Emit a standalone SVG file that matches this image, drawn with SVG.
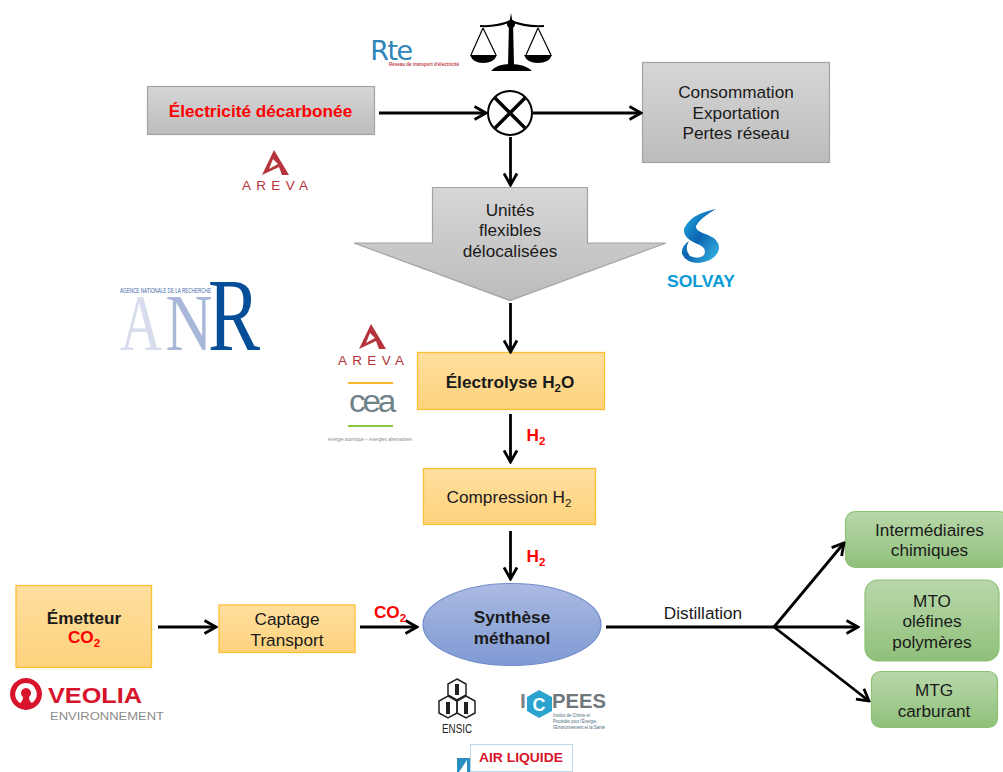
<svg xmlns="http://www.w3.org/2000/svg" width="1003" height="772" viewBox="0 0 1003 772">
<defs>
<linearGradient id="gy" x1="0" y1="0" x2="0" y2="1"><stop offset="0" stop-color="#d6d6d6"/><stop offset="1" stop-color="#bcbcbc"/></linearGradient>
<linearGradient id="or" x1="0" y1="0" x2="0" y2="1"><stop offset="0" stop-color="#ffdf9f"/><stop offset="1" stop-color="#fdd27c"/></linearGradient>
<linearGradient id="gr" x1="0" y1="0" x2="0" y2="1"><stop offset="0" stop-color="#b9d8aa"/><stop offset="1" stop-color="#8fc07a"/></linearGradient>
<linearGradient id="bl" x1="0" y1="0" x2="0" y2="1"><stop offset="0" stop-color="#abbbe2"/><stop offset="1" stop-color="#7f99d3"/></linearGradient>
<linearGradient id="so" x1="0" y1="0" x2="1" y2="1"><stop offset="0" stop-color="#25b4e8"/><stop offset=".5" stop-color="#0b63b0"/><stop offset="1" stop-color="#3cc0ea"/></linearGradient>
<marker id="a" viewBox="0 0 16 16" refX="14" refY="8" markerWidth="16" markerHeight="16" markerUnits="userSpaceOnUse" orient="auto"><path d="M2.500 1.500L14 8L2.500 14.500" fill="none" stroke="#000" stroke-width="2.800"/></marker>
</defs>
<style>
text{font-family:"Liberation Sans",Arial,sans-serif;font-size:17.200px;text-anchor:middle;fill:#1a1a1a}
.b{font-weight:700}.r{fill:#f00;font-weight:700}
.gy{fill:url(#gy);stroke:#a3a3a3;stroke-width:1.200}
.or{fill:url(#or);stroke:#fbbf34;stroke-width:1.300}
.gr{fill:url(#gr);stroke:#8cc274;stroke-width:1.200}
.c{fill:none;stroke:#000;stroke-width:2.800}
.s{font-size:11.500px}
.ar{fill:#b5333a;font-size:13.500px}
.ic{font-size:4.500px;text-anchor:start;fill:#4a6a78}
</style>
<g id="n-elec"><rect class="gy" x="147.500" y="86.500" width="227" height="48"/><text x="260.500" y="117" class="r">Électricité décarbonée</text></g>
<g id="n-conso"><rect class="gy" x="642.500" y="62.500" width="187" height="100"/><text x="736" y="98">Consommation</text><text x="736" y="119">Exportation</text><text x="736" y="139">Pertes réseau</text></g>
<g id="n-unites"><path class="gy" d="M432.500 187.500H587.500V243H666L510 300.500L354 243H432.500Z"/><text x="510" y="216">Unités</text><text x="510" y="236">flexibles</text><text x="510" y="257">délocalisées</text></g>
<g id="n-electrolyse"><rect class="or" x="417.500" y="352.500" width="187" height="57"/><text x="510" y="388" class="b">Électrolyse H<tspan dy="4" class="s">2</tspan><tspan dy="-4">O</tspan></text></g>
<g id="n-compression"><rect class="or" x="423.500" y="468.500" width="172" height="56"/><text x="509" y="503">Compression H<tspan dy="4" class="s">2</tspan></text></g>
<g id="n-emetteur"><rect class="or" x="16" y="585.500" width="135.500" height="82"/><text x="84" y="624" class="b">Émetteur</text><text x="84" y="643" class="r">CO<tspan dy="4" class="s">2</tspan></text></g>
<g id="n-captage"><rect class="or" x="219" y="605" width="136" height="47.500"/><text x="287" y="625">Captage</text><text x="287" y="646">Transport</text></g>
<g id="n-synthese"><ellipse cx="512" cy="624.500" rx="89" ry="41" fill="url(#bl)" stroke="#6f8ccb" stroke-width="1.200"/><text x="512" y="623" class="b">Synthèse</text><text x="512" y="644" class="b">méthanol</text></g>
<g id="n-inter"><rect class="gr" x="845.500" y="511.500" width="163" height="56" rx="10"/><text x="929.500" y="536">Intermédiaires</text><text x="929.500" y="556">chimiques</text></g>
<g id="n-mto"><rect class="gr" x="865" y="580" width="134" height="81" rx="13"/><text x="932" y="607">MTO</text><text x="932" y="627">oléfines</text><text x="932" y="648">polymères</text></g>
<g id="n-mtg"><rect class="gr" x="871.500" y="671.500" width="126" height="56" rx="9"/><text x="934" y="696">MTG</text><text x="934" y="717">carburant</text></g>
<g id="connectors">
<path class="c" marker-end="url(#a)" d="M379 113H486"/>
<path class="c" marker-end="url(#a)" d="M533 113H641"/>
<path class="c" marker-end="url(#a)" d="M510.500 137V185"/>
<path class="c" marker-end="url(#a)" d="M510.500 303V352"/>
<path class="c" marker-end="url(#a)" d="M510.500 414V462"/>
<path class="c" marker-end="url(#a)" d="M510.500 531V579"/>
<path class="c" marker-end="url(#a)" d="M158 627H216"/>
<path class="c" marker-end="url(#a)" d="M360 627H417"/>
<path class="c" marker-end="url(#a)" d="M606 627H858"/>
<path class="c" marker-end="url(#a)" d="M774 627L844 543"/>
<path class="c" marker-end="url(#a)" d="M774 627L869 701"/>
</g>
<g id="n-mix"><circle cx="510" cy="113" r="22" fill="#fff" stroke="#000" stroke-width="2"/><path d="M495 98L525 128M525 98L495 128" stroke="#000" stroke-width="3.400" fill="none"/></g>
<g id="labels">
<text x="536" y="441" class="r">H<tspan dy="4" class="s">2</tspan></text>
<text x="536" y="562" class="r">H<tspan dy="4" class="s">2</tspan></text>
<text x="390" y="618" class="r">CO<tspan dy="4" class="s">2</tspan></text>
<text x="703" y="619">Distillation</text>
</g>
<g id="logo-rte"><text x="391" y="60" style="font-size:27px;fill:#2e86b8;letter-spacing:-1.500px;font-family:'DejaVu Sans',sans-serif">Rte</text><text x="424" y="66" style="font-size:4.500px;fill:#c0404a;font-weight:700" textLength="70" lengthAdjust="spacingAndGlyphs">Réseau de transport d'électricité</text></g>
<g id="logo-balance" fill="#000"><path d="M509 22H513L514 66H508Z"/><path d="M511 13l1.500 9h-3Z"/><circle cx="511" cy="24" r="4"/><path d="M480 26Q497 27 511 21Q525 27 544 26" fill="none" stroke="#000" stroke-width="2"/><path d="M483 28L471 55M483 28L496 55M538 28L526 55M538 28L551 55" fill="none" stroke="#000" stroke-width="1.200"/><path d="M470 55H497Q494 63 483 63Q473 63 470 55ZM524 55H552Q549 63 538 63Q527 63 524 55Z"/><path d="M491 71Q497 64 511 64Q525 64 532 71Z"/></g>
<g id="logo-areva1"><path d="M274 150L262 175L279 167L282 175H289ZM273 159L269 169L278 164Z" fill="#b5333a" fill-rule="evenodd"/><text x="275" y="190" class="ar" textLength="66" lengthAdjust="spacing">AREVA</text></g>
<g id="logo-solvay"><path d="M716 209Q690 214 684 229Q683 238 695 243Q708 247 704 255Q699 260 690 256Q684 250 689 241Q681 246 682 254Q686 263 699 263Q716 261 719 249Q720 240 708 235Q695 231 696 226Q700 218 716 209Z" fill="url(#so)"/><text x="701" y="287" style="font-size:17px;font-weight:700;fill:#0a9bd8" textLength="68" lengthAdjust="spacingAndGlyphs">SOLVAY</text></g>
<g id="logo-anr"><text x="141" y="350" style="font-family:'Liberation Serif',serif;font-size:80px;fill:#d7ddec" textLength="42" lengthAdjust="spacingAndGlyphs">A</text><text x="189" y="350" style="font-family:'Liberation Serif',serif;font-size:80px;fill:#a9b7d8" textLength="47" lengthAdjust="spacingAndGlyphs">N</text><text x="234" y="350" style="font-family:'Liberation Serif',serif;font-size:104px;fill:#064e98" textLength="52" lengthAdjust="spacingAndGlyphs">R</text><text x="165.500" y="293" style="font-size:7.500px;fill:#3d6aa8" textLength="91" lengthAdjust="spacingAndGlyphs">AGENCE NATIONALE DE LA RECHERCHE</text></g>
<g id="logo-areva2"><path d="M371 324L359 349L376 341L379 349H386ZM370 333L366 343L375 338Z" fill="#b5333a" fill-rule="evenodd"/><text x="371" y="365" class="ar" textLength="66" lengthAdjust="spacing">AREVA</text></g>
<g id="logo-cea"><rect x="348" y="382" width="45" height="2" fill="#fbb62c"/><text x="371" y="412" style="font-size:31px;fill:#6f8287;letter-spacing:-3px" textLength="44" lengthAdjust="spacingAndGlyphs">cea</text><rect x="348" y="425" width="45" height="2" fill="#8cc63f"/><text x="370" y="441" style="font-size:5px;fill:#8a8a8a" textLength="84" lengthAdjust="spacingAndGlyphs">énergie atomique – énergies alternatives</text></g>
<g id="logo-veolia"><path fill-rule="evenodd" fill="#d7142b" d="M26 678a16 16 0 1 0 .01 0ZM26 683a11 11 0 0 1 6 20q-3-2-3-6a5 5 0 1 0-6 0q0 4-3 6a11 11 0 0 1 6-20Z"/><text x="95" y="703" style="font-size:22px;font-weight:700;fill:#d7142b" textLength="94" lengthAdjust="spacingAndGlyphs">VEOLIA</text><text x="107" y="720" style="font-size:11.500px;fill:#8c8c8c" textLength="114" lengthAdjust="spacingAndGlyphs">ENVIRONNEMENT</text></g>
<g id="logo-ensic" fill="none" stroke="#222" stroke-width="1.500"><path d="M457 679L466 684V695L457 700L448 695V684Z"/><path d="M448 696L457 701V713L448 718L439 713V701Z"/><path d="M466 696L475 701V713L466 718L457 713V701Z"/><path d="M457 684v11M448 702v12M466 702v12" stroke-width="4"/><text x="457" y="733" style="font-size:12px;fill:#222;stroke:none" textLength="30" lengthAdjust="spacingAndGlyphs">ENSIC</text></g>
<g id="logo-icpees"><path d="M539 690L552 697V711L539 718L527 711V697Z" fill="#2aa3cf"/><text x="523" y="708" style="font-size:21px;font-weight:700;fill:#7b8387">I</text><text x="539" y="711" style="font-size:18px;font-weight:700;fill:#fff">C</text><text x="579" y="708" style="font-size:21px;font-weight:700;fill:#6f777b" textLength="54" lengthAdjust="spacingAndGlyphs">PEES</text><text x="553" y="717" class="ic" textLength="37" lengthAdjust="spacingAndGlyphs">Institut de Chimie et</text><text x="553" y="723" class="ic" textLength="44" lengthAdjust="spacingAndGlyphs">Procédés pour l'Énergie,</text><text x="553" y="729" class="ic" textLength="52" lengthAdjust="spacingAndGlyphs">l'Environnement et la Santé</text></g>
<g id="logo-airliquide"><rect x="470.500" y="744.500" width="102" height="27" fill="#fff" stroke="#b8d8e6"/><path d="M457 772V758H470V772Z" fill="#2a8fc0"/><path d="M459 772L467 760V772Z" fill="#fff"/><text x="521" y="762" style="font-size:13.500px;font-weight:700;fill:#d7142b" textLength="84" lengthAdjust="spacingAndGlyphs">AIR LIQUIDE</text></g>
</svg>
